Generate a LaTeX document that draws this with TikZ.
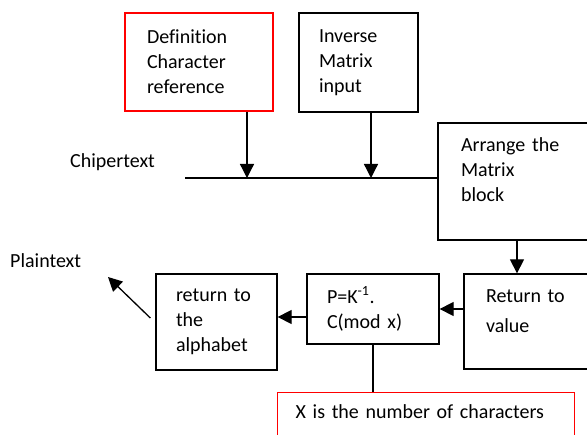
\documentclass[tikz,border=0pt]{standalone}
\usepackage{fontspec}
\setmainfont[Ligatures=NoCommon]{Carlito}
\usetikzlibrary{arrows.meta}

\tikzset{
	block/.style={draw,line width=1.3pt,align=left,inner ysep=0pt},
	redblock/.style={block,draw=red},
	arr/.style={-{Triangle[width=14pt,length=14pt]},line width=1.3pt},
	wire/.style={line width=1.3pt}
}

\begin{document}
\begin{tikzpicture}[x=1pt,y=-1pt,font=\fontsize{20}{25}\selectfont]
	\useasboundingbox (0,0) rectangle (587,435);
	\clip (0,0) rectangle (587,435);
	% top row of inputs
	\node[redblock,minimum width=148pt,minimum height=98pt,inner xsep=22pt,text width=104pt] (defn) at (199,62) {Definition\\Character\\reference};
	\node[block,minimum width=119pt,minimum height=99pt,inner xsep=20pt,text width=79pt] (inv) at (358.5,62.5) {Inverse\\Matrix\\input};
	\node[block,minimum width=200pt,minimum height=117pt,inner xsep=23pt,text width=154pt,text depth=73pt] (arrange) at (538,181.5) {Arrange the\\Matrix\\block};
	% lower row
	\node[block,minimum width=200pt,minimum height=95pt,inner xsep=22pt,text width=156pt,text depth=51pt] (ret) at (564,321.5) {Return to\\[5pt]value};
	\node[block,minimum width=132pt,minimum height=70pt,inner xsep=20pt,text width=92pt] (pk) at (373,309) {P=K\textsuperscript{-1}.\\C(mod x)};
	\node[block,minimum width=121pt,minimum height=96pt,inner xsep=20pt,text width=81pt] (alpha) at (216.5,322) {return to\\the\\alphabet};
	\node[redblock,anchor=north west,inner xsep=18pt,text width=261pt,text height=26pt,text depth=30pt] (xnote) at (277,392) {X is the number of characters};
	% labels
	\node[anchor=base west,inner sep=0pt] (chiper) at (70,168) {Chipertext};
	\node[anchor=base west,inner sep=0pt] (plain) at (10,268) {Plaintext};
	% connectors
	\coordinate (cin) at (185,178);
	\coordinate (d1) at (247,178);
	\coordinate (i1) at (371,178);
	\coordinate (down) at (517,257);
	\coordinate (back) at (0,317);
	\coordinate (tip) at (108,277);
	\draw[wire] (cin) -- (cin -| arrange.west);
	\draw[arr] (defn.south -| d1) -- (d1);
	\draw[arr] (inv.south -| i1) -- (i1);
	\draw[arr] (arrange.south -| down) -- (ret.north -| down);
	\draw[arr] (ret.west |- pk.east) -- (pk.east);
	\draw[arr] (pk.west |- back) -- (alpha.east |- back);
	\draw[arr] ([xshift=-5pt,yshift=4pt]alpha.west) -- (tip);
	\draw[wire] (pk.south) -- (xnote.north -| pk.south);
\end{tikzpicture}
\end{document}
